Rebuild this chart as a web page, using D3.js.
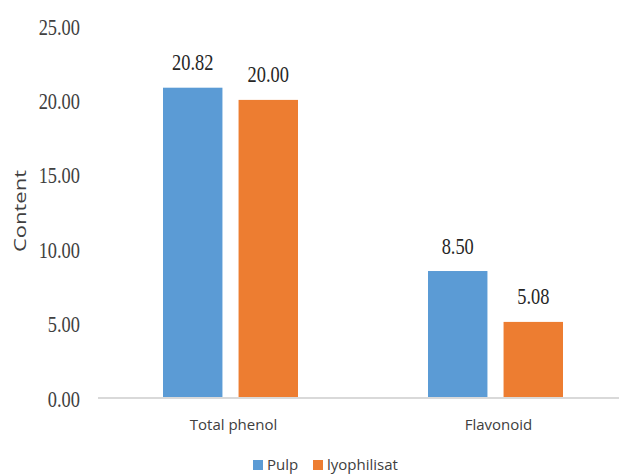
<!DOCTYPE html>
<html>
<head>
<meta charset="utf-8">
<script src="https://cdn.jsdelivr.net/npm/d3@7"></script>
<style>
  body { margin: 0; background: #fff; }
</style>
</head>
<body>
<script>
// grouped bar chart: phenol and flavonoid content
var categories = ["Total phenol", "Flavonoid"];
var series = ["Pulp", "lyophilisat"];
var pulpValues = [20.82, 8.50];
var lyoValues = [20.00, 5.08];
var yTicks = [0, 5, 10, 15, 20, 25];
var colors = ["#5B9BD5", "#ED7D31"];

var width = 619, height = 474;

var rows = categories.map(function(c, i) {
  return {cat: c, vals: [pulpValues[i], lyoValues[i]]};
});

var svg = d3.select("body").append("svg")
    .attr("width", width)
    .attr("height", height);

var x0 = d3.scaleBand()
    .domain(categories)
    .range([98, 628])
    .padding(0);

var x1 = d3.scaleBand()
    .domain(series)
    .range([65, 200])
    .paddingInner(0.2133)
    .paddingOuter(0);

var y = d3.scaleLinear()
    .domain([0, 25])
    .range([397.5, 25.5]);

// y tick labels (narrow serif look)
svg.selectAll(".ytick")
    .data(yTicks)
  .enter().append("g")
    .attr("class", "ytick")
    .attr("transform", function(d) { return "translate(80," + (y(d) + 9) + ") scale(0.8,1)"; })
  .append("text")
    .attr("text-anchor", "end")
    .style("font-family", "'Liberation Serif', serif")
    .style("font-size", "23px")
    .style("fill", "#404040")
    .text(function(d) { return d.toFixed(2); });

// y axis title
svg.append("text")
    .attr("transform", "translate(26,211) rotate(-90)")
    .attr("text-anchor", "middle")
    .attr("textLength", 82)
    .attr("lengthAdjust", "spacingAndGlyphs")
    .style("font-family", "'Open Sans', sans-serif")
    .style("font-size", "16px")
    .style("fill", "#404040")
    .text("Content");

var groups = svg.selectAll(".grp")
    .data(rows)
  .enter().append("g")
    .attr("class", "grp")
    .attr("transform", function(d) { return "translate(" + x0(d.cat) + ",0)"; });

groups.selectAll("rect")
    .data(function(d) { return d.vals.map(function(v, i) { return {s: series[i], v: v, i: i}; }); })
  .enter().append("rect")
    .attr("x", function(d) { return x1(d.s); })
    .attr("y", function(d) { return y(d.v); })
    .attr("width", x1.bandwidth())
    .attr("height", function(d) { return y(0) - y(d.v); })
    .style("fill", function(d) { return colors[d.i]; });

groups.selectAll(".val")
    .data(function(d) { return d.vals.map(function(v, i) { return {s: series[i], v: v}; }); })
  .enter().append("g")
    .attr("class", "val")
    .attr("transform", function(d) {
      return "translate(" + (x1(d.s) + x1.bandwidth() / 2) + "," + (y(d.v) - 17.5) + ") scale(0.8,1)";
    })
  .append("text")
    .attr("text-anchor", "middle")
    .style("font-family", "'Liberation Serif', serif")
    .style("font-size", "23px")
    .style("fill", "#262626")
    .text(function(d) { return d.v.toFixed(2); });

// x axis line
svg.append("line")
    .attr("x1", 98)
    .attr("x2", width)
    .attr("y1", y(0) + 0.5)
    .attr("y2", y(0) + 0.5)
    .style("stroke", "#D9D9D9")
    .style("stroke-width", 2);

// category labels
svg.selectAll(".cat")
    .data(categories)
  .enter().append("text")
    .attr("class", "cat")
    .attr("x", function(d) { return x0(d) + x0.bandwidth() / 2 + 3; })
    .attr("y", 430)
    .attr("text-anchor", "middle")
    .style("font-family", "'Open Sans', sans-serif")
    .style("font-size", "15px")
    .style("fill", "#404040")
    .text(function(d) { return d; });

// legend
var legendX = [253, 313];
var legend = svg.selectAll(".legend")
    .data(series)
  .enter().append("g")
    .attr("class", "legend")
    .attr("transform", function(d, i) { return "translate(" + legendX[i] + ",460)"; });

legend.append("rect")
    .attr("width", 10)
    .attr("height", 10)
    .style("fill", function(d, i) { return colors[i]; });

legend.append("text")
    .attr("x", 14)
    .attr("y", 10)
    .style("font-family", "'Open Sans', sans-serif")
    .style("font-size", "15px")
    .style("fill", "#404040")
    .text(function(d) { return d; });
</script>
</body>
</html>
